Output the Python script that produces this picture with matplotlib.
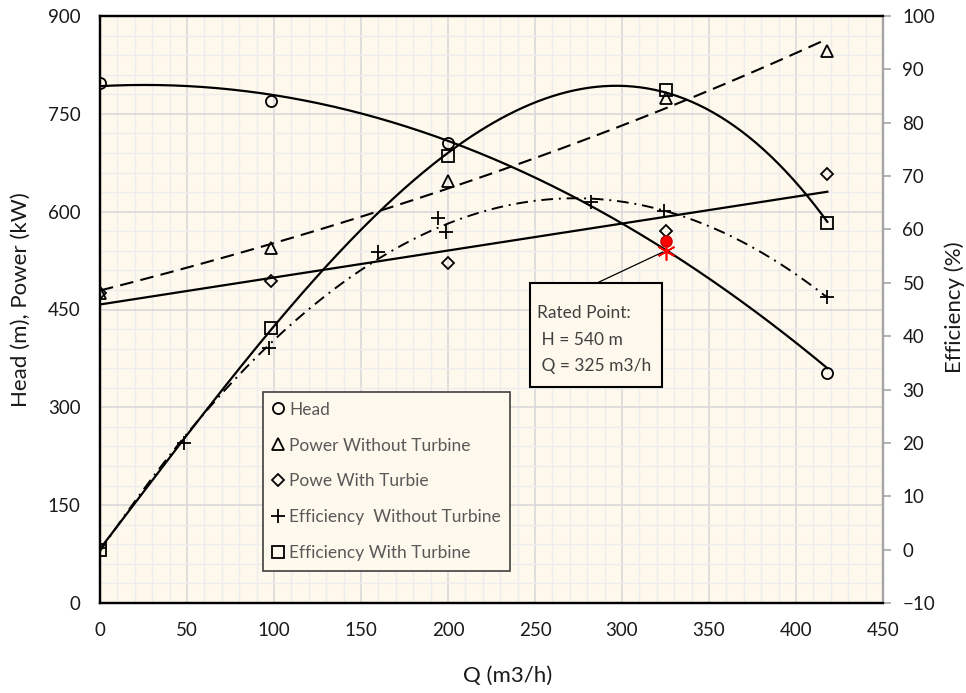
import numpy as np
import matplotlib
matplotlib.use('Agg')
import matplotlib.pyplot as plt
from matplotlib.lines import Line2D
from matplotlib.patches import Rectangle
from matplotlib.ticker import MultipleLocator

plt.rcParams['font.family'] = ['Lato', 'DejaVu Sans']

# ---- data ----
q_main = [0, 98, 200, 325, 418]
head = [798, 770, 706, 555, 353]
power_without = [476, 545, 647, 774, 846]
power_with = [476, 493, 522, 571, 657]
eff_with = [0.0, 41.6, 73.7, 86.1, 61.3]
q_eff_without = [0, 48, 97, 160, 194, 199, 282, 324, 418]
eff_without = [0.3, 20.0, 37.7, 55.7, 62.1, 59.5, 65.1, 63.5, 47.4]
rated_q = [325]
rated_h = [540]
rated_index = 3

labels = ["Head", "Power Without Turbine", "Powe With Turbie",
          "Efficiency  Without Turbine", "Efficiency With Turbine"]
x_ticks = [0, 50, 100, 150, 200, 250, 300, 350, 400, 450]
left_ticks = [0, 150, 300, 450, 600, 750, 900]
right_ticks = [-10, 0, 10, 20, 30, 40, 50, 60, 70, 80, 90, 100]

# ---- figure ----
W, H = 966, 693
fig = plt.figure(figsize=(W / 100, H / 100), dpi=100)
L, R, T, B = 100, 883, 16, 603
ax = fig.add_axes([L / W, 1 - B / H, (R - L) / W, (B - T) / H])
ax.set_facecolor('#FEF9EC')
ax2 = ax.twinx()

ax.set_xlim(0, 450)
ax.set_ylim(0, 900)
ax2.set_ylim(-10, 100)

ax.set_xticks(x_ticks)
ax.set_yticks(left_ticks)
ax2.set_yticks(right_ticks)
ax.xaxis.set_minor_locator(MultipleLocator(10))
ax.yaxis.set_minor_locator(MultipleLocator(30))
ax.set_axisbelow(True)
ax.grid(which='major', color='#D9D9D9', lw=1.2)
ax.grid(which='minor', color='#EDEDED', lw=1.0)
ax.tick_params(which='minor', length=0)
ax.tick_params(axis='x', length=0, pad=14, labelsize=13.5, colors='#1a1a1a')
ax.tick_params(axis='y', length=0, pad=14, labelsize=13.5, colors='#1a1a1a')
ax2.tick_params(axis='y', length=6, width=1.2, color='#A6A6A6', pad=8,
                labelsize=13.5, labelcolor='#1a1a1a')

for a in (ax, ax2):
    for s in ('left', 'bottom', 'top'):
        a.spines[s].set_color('black')
        a.spines[s].set_linewidth(1.6)
    a.spines['right'].set_color('#A6A6A6')
    a.spines['right'].set_linewidth(1.6)

# ---- trendlines (fitted from the data, Excel style) ----
qq = np.linspace(min(q_main), max(q_main), 300)
qm = np.array(q_main, float)
c_head = np.polyfit(qm, head, 2)
ax.plot(qq, np.polyval(c_head, qq), color='black', lw=1.6)
c_pwo = np.polyfit(qm, np.log(power_without), 1)
ax.plot(qq, np.exp(np.polyval(c_pwo, qq)), color='black', lw=1.5,
        dashes=(6.5, 3.5))
c_pw = np.polyfit(qm, power_with, 1)
ax.plot(qq, np.polyval(c_pw, qq), color='black', lw=1.6)
c_ewo = np.polyfit(q_eff_without, eff_without, 2)
ax2.plot(qq, np.polyval(c_ewo, qq), color='black', lw=1.4,
         dashes=(6, 3, 1, 3))
c_ew = np.polyfit(qm, eff_with, 3)
ax2.plot(qq, np.polyval(c_ew, qq), color='black', lw=1.6)

# ---- markers ----
mk = dict(ls='none', mfc='none', mec='black', mew=1.3)
hq = [q for i, q in enumerate(q_main) if i != rated_index]
hh = [h for i, h in enumerate(head) if i != rated_index]
ax.plot(hq, hh, marker='o', ms=8, **mk)
ax.plot(q_main, power_without, marker='^', ms=8, **mk)
ax.plot(q_main, power_with, marker='D', ms=6, **mk)
ax2.plot(q_eff_without, eff_without, marker='+', ms=10, ls='none',
         color='black', mew=1.3)
ax2.plot(q_main, eff_with, marker='s', ms=8.5, **mk)
ax2.plot([q_main[rated_index]], [(head[rated_index] / 900) * 110 - 10],
         marker='o', ms=8, ls='none', mfc='#FF0000', mec='#C00000', mew=1.0)
ax2.plot(rated_q, [(h / 900) * 110 - 10 for h in rated_h], marker=(6, 2, 0),
         ms=13, ls='none', color='#FF0000', mec='#FF0000', mew=1.2)

# ---- rated point call-out ----
def fx(px):
    return (px - L) / (R - L)

def fy(py):
    return (B - py) / (B - T)

bx0, bx1, by0, by1 = fx(530), fx(662), fy(387), fy(283)
ax2.add_patch(Rectangle((bx0, by0), bx1 - bx0, by1 - by0, transform=ax2.transAxes,
                        facecolor='#FEF9EC', edgecolor='black', lw=1.5, zorder=6))
ax2.annotate('', xy=(rated_q[0], rated_h[0] / 900 * 110 - 10), xycoords='data',
             xytext=(fx(597), by1), textcoords='axes fraction',
             arrowprops=dict(arrowstyle='-', lw=0.9, color='black',
                             shrinkA=0, shrinkB=2), zorder=5)
for txt, py, px in (("Rated Point:", 313, 537), (" H = 540 m", 340, 537),
                    (" Q = 325 m3/h", 366, 537)):
    ax2.text(fx(px), fy(py), txt, transform=ax2.transAxes, fontsize=12.5,
             color='#404040', va='center', ha='left', zorder=7)

# ---- legend ----
handles = [
    Line2D([], [], marker='o', ms=8, **mk),
    Line2D([], [], marker='^', ms=8, **mk),
    Line2D([], [], marker='D', ms=6, **mk),
    Line2D([], [], marker='+', ms=10, ls='none', color='black', mew=1.3),
    Line2D([], [], marker='s', ms=8.5, **mk),
]
leg = ax2.legend(handles, labels, loc='upper left',
                 bbox_to_anchor=(fx(263), fy(392)), bbox_transform=ax2.transAxes,
                 frameon=True, fancybox=False, edgecolor='#404040',
                 facecolor='#FEF9EC', framealpha=1, fontsize=12.5,
                 handlelength=0.6, handletextpad=0.35, labelspacing=1.15,
                 borderpad=0.55, borderaxespad=0, labelcolor='#595959')
leg.get_frame().set_linewidth(1.2)
leg.set_zorder(10)

# ---- axis titles ----
xl = ax.set_xlabel('Q (m3/h)', fontsize=16, color='#1a1a1a')
ax.xaxis.set_label_coords(fx(508), fy(676))
xl.set_va('center')
yl = ax.set_ylabel('Head (m), Power (kW)', fontsize=16, color='#1a1a1a')
ax.yaxis.set_label_coords(fx(21), fy(300))
yl.set_va('center')
yl2 = ax2.set_ylabel('Efficiency (%)', fontsize=16, color='#1a1a1a')
ax2.yaxis.set_label_coords(fx(955), fy(307))
yl2.set_va('center')
yl2.set_rotation(90)

fig.savefig('out.png', dpi=100, facecolor='white')
